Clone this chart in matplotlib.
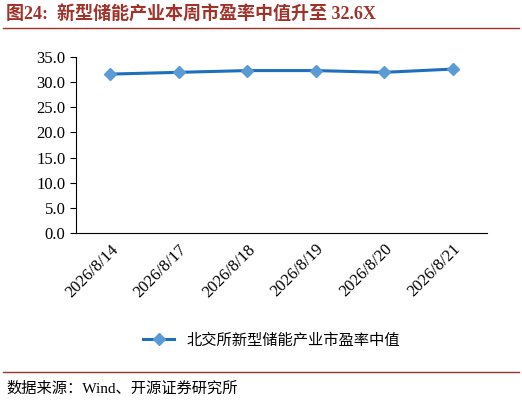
import matplotlib
matplotlib.use('Agg')
import matplotlib.pyplot as plt
from matplotlib.lines import Line2D

plt.rcParams['font.family'] = ['Liberation Serif', 'Noto Sans CJK SC']

dates = ['2026/8/14', '2026/8/17', '2026/8/18', '2026/8/19', '2026/8/20', '2026/8/21']
pe = [31.6, 31.95, 32.3, 32.3, 31.95, 32.6]
yticks = [0, 5, 10, 15, 20, 25, 30, 35]

fig = plt.figure(figsize=(5.22, 4.05), dpi=100)
ax = fig.add_axes([76/522, 1-233/405, 411/522, 176/405])
x = range(len(dates))
ax.plot(x, pe, color='#1f6fbf', lw=2.2, marker='D', ms=6,
        mfc='#5b9bd5', mec='#5b9bd5', label='北交所新型储能产业市盈率中值')
ax.set_xlim(-0.5, len(dates) - 0.5)
ax.set_ylim(0, 35)
ax.set_yticks(yticks)
ax.set_yticklabels([f'{v:.1f}' for v in yticks], fontsize=12)
ax.set_xticks(list(x))
ax.set_xticklabels(dates, rotation=45, ha='right', rotation_mode='anchor', fontsize=12)
for s in ['top', 'right']:
    ax.spines[s].set_visible(False)
ax.tick_params(axis='x', length=0, pad=6)
ax.tick_params(axis='y', length=4, direction='out')

handle = Line2D([], [], color='#1f6fbf', lw=2.2, marker='D', ms=6,
                mfc='#5b9bd5', mec='#5b9bd5')
fig.legend([handle], ['北交所新型储能产业市盈率中值'], loc='center',
           bbox_to_anchor=(0.52, 1-340/405), frameon=False,
           prop={'family': ['Noto Sans CJK SC'], 'size': 11})

fig.text(0.012, 1-14/405, '图24:  新型储能产业本周市盈率中值升至 32.6X', fontsize=13,
         fontweight='bold', color='#a0322a', va='center')
fig.add_artist(Line2D([0.005, 0.995], [1-28/405]*2, color='#a0322a', lw=1))
fig.add_artist(Line2D([0.005, 0.995], [1-372/405]*2, color='#a0322a', lw=1))
fig.text(0.012, 1-389/405, '数据来源：Wind、开源证券研究所', fontsize=11, va='center')

fig.savefig('out.png', dpi=100)
